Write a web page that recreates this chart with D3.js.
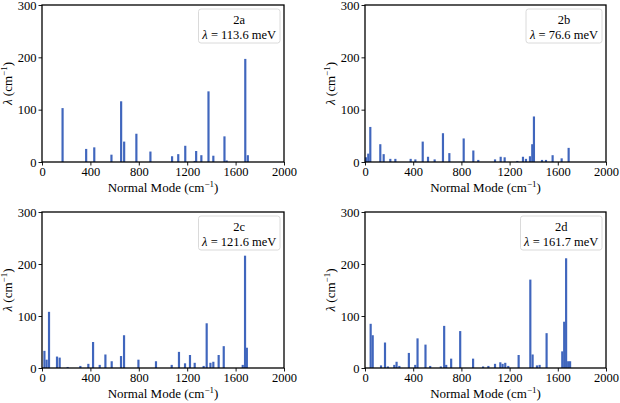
<!DOCTYPE html>
<html><head><meta charset="utf-8">
<script src="https://cdn.jsdelivr.net/npm/d3@7"></script>
<style>body{margin:0;background:#fff}svg{display:block}</style>
</head><body><svg id="c" width="620" height="403" font-family="Liberation Serif"></svg>
<script>
const panelNames = ["2a","2b","2c","2d"];
const panelLambda = ["113.6","76.6","121.6","161.7"];
const xTicks = [0,400,800,1200,1600,2000];
const yTicks = [0,100,200,300];

const freqA = [170,365,432,574,654,679,780,896,1075,1126,1184,1262,1274,1317,1376,1416,1508,1526,1680,1701];
const valA  = [103,25,28,14,116,39,54,20,11,15,31,2,21,13,135,12,49,3,197,13];

const freqB = [8,27,44,127,155,210,252,379,418,479,523,578,647,700,819,899,940,1079,1126,1159,1264,1311,1336,1369,1388,1402,1469,1502,1557,1632,1690];
const valB  = [9,16,67,34,15,6,6,6,5,39,10,5,55,17,45,22,4,5,10,9,2,10,6,11,34,87,4,4,13,7,27];

const freqC = [20,38,58,124,146,212,317,383,422,477,524,576,653,678,797,942,1072,1132,1182,1223,1262,1336,1361,1392,1416,1460,1502,1659,1678,1693];
const valC  = [33,16,108,22,20,2,4,8,50,6,26,13,23,63,16,13,6,31,9,25,10,4,86,10,12,25,42,6,216,39];

const freqD = [47,64,133,166,190,243,262,285,364,417,436,502,541,629,657,674,715,790,897,980,1024,1079,1123,1142,1164,1189,1275,1372,1391,1427,1449,1507,1637,1653,1669,1686,1702];
const valD  = [85,63,5,49,3,6,12,4,29,6,57,45,4,3,81,6,18,71,18,3,4,8,11,8,10,4,25,170,26,5,6,67,32,89,211,13,13];

const freqs = [freqA,freqB,freqC,freqD];
const vals = [valA,valB,valC,valD];

const boxes = [
  {l:42,r:284,t:5,b:162},
  {l:365,r:606,t:5,b:162},
  {l:42,r:284,t:212,b:368},
  {l:365,r:606,t:212,b:368}
];
const FONT = "Liberation Serif";
const barColor = "#4066bd";
const svg = d3.select("#c");

function serif(sel, size){
  return sel.attr("font-family",FONT).style("font-family",FONT).attr("font-size",size);
}

boxes.forEach((bx,i)=>{
  const x = d3.scaleLinear().domain([0,2000]).range([bx.l,bx.r]);
  const y = d3.scaleLinear().domain([0,300]).range([bx.b,bx.t]);
  const g = svg.append("g");
  const bw = 18;
  g.selectAll("rect.bar").data(freqs[i].map((f,k)=>({f,v:vals[i][k]}))).enter().append("rect")
    .attr("x",d=>x(d.f-bw/2)).attr("width",x(bw)-x(0))
    .attr("y",d=>y(d.v)).attr("height",d=>y(0)-y(d.v))
    .attr("fill",barColor);
  const xa = g.append("g").attr("transform",`translate(0,${bx.b})`)
    .call(d3.axisBottom(x).tickValues(xTicks).tickSize(3.5).tickPadding(2).tickFormat(d3.format("d")));
  const ya = g.append("g").attr("transform",`translate(${bx.l},0)`)
    .call(d3.axisLeft(y).tickValues(yTicks).tickSize(3.5).tickPadding(2).tickFormat(d3.format("d")));
  [xa,ya].forEach(a=>{
    a.attr("font-family",FONT).attr("font-size",12.5);
    a.select(".domain").remove();
    a.selectAll("line").attr("stroke","#000").attr("stroke-width",0.9);
    serif(a.selectAll("text"),12.5).attr("fill","#000");
  });
  g.append("rect").attr("x",bx.l).attr("y",bx.t).attr("width",bx.r-bx.l).attr("height",bx.b-bx.t)
    .attr("fill","none").attr("stroke","#000").attr("stroke-width",1.3);
  // x label
  const xl = serif(g.append("text"),13).attr("x",(bx.l+bx.r)/2).attr("y",bx.b+30).attr("text-anchor","middle");
  xl.append("tspan").text("Normal Mode (cm");
  xl.append("tspan").text("\u22121").attr("font-size",9).attr("dy",-5);
  xl.append("tspan").text(")").attr("dy",5);
  // y label
  const cy = (bx.t+bx.b)/2;
  const yl = serif(g.append("text"),13).attr("transform",`translate(${bx.l-30},${cy}) rotate(-90)`).attr("text-anchor","middle");
  yl.append("tspan").text("\u03bb").attr("font-style","italic");
  yl.append("tspan").text(" (cm");
  yl.append("tspan").text("\u22121").attr("font-size",9).attr("dy",-5);
  yl.append("tspan").text(")").attr("dy",5);
  // legend
  const label2 = "\u03bb = " + panelLambda[i] + " meV";
  const w = 10 + 5.5*label2.length, h = 34;
  const lx = bx.r - 4 - w, ly = bx.t + 4;
  const lg = g.append("g");
  lg.append("rect").attr("x",lx).attr("y",ly).attr("width",w).attr("height",h).attr("rx",2.5)
    .attr("fill","#fff").attr("fill-opacity",0.8).attr("stroke","#d6d6d6").attr("stroke-width",0.9);
  serif(lg.append("text"),12.5).attr("x",lx+w/2).attr("y",ly+15).attr("text-anchor","middle").text(panelNames[i]);
  const t2 = serif(lg.append("text"),12.5).attr("x",lx+w/2).attr("y",ly+30).attr("text-anchor","middle");
  t2.append("tspan").text("\u03bb").attr("font-style","italic");
  t2.append("tspan").text(" = " + panelLambda[i] + " meV");
});
</script></body></html>
